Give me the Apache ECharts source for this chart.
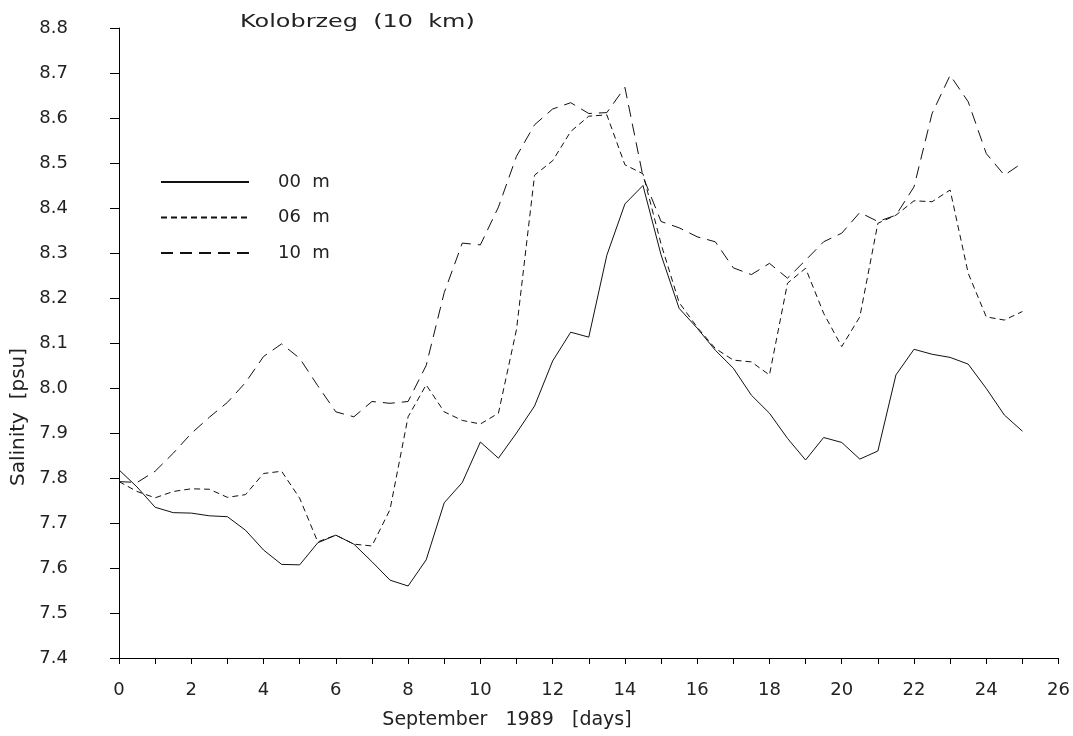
<!DOCTYPE html>
<html>
<head>
<meta charset="utf-8">
<script src="https://cdn.jsdelivr.net/npm/echarts@6/dist/echarts.min.js"></script>
<style>
html,body{margin:0;padding:0;background:#fff;}
#chart{width:1073px;height:736px;}
</style>
</head>
<body>
<div id="chart"></div>
<script>
// Days (half-day steps), September 1989
var days = [0,0.5,1,1.5,2,2.5,3,3.5,4,4.5,5,5.5,6,6.5,7,7.5,8,8.5,9,9.5,10,10.5,11,11.5,12,12.5,13,13.5,14,14.5,15,15.5,16,16.5,17,17.5,18,18.5,19,19.5,20,20.5,21,21.5,22,22.5,23,23.5,24,24.5,25];

var sal00 = [7.818,7.780,7.735,7.723,7.722,7.716,7.714,7.684,7.640,7.608,7.607,7.656,7.673,7.653,7.614,7.573,7.560,7.618,7.745,7.790,7.880,7.844,7.900,7.960,8.060,8.124,8.113,8.295,8.409,8.450,8.296,8.177,8.133,8.084,8.044,7.984,7.944,7.888,7.840,7.890,7.879,7.842,7.860,8.029,8.086,8.075,8.068,8.053,7.999,7.940,7.904];

var sal06 = [7.792,7.770,7.756,7.770,7.776,7.775,7.757,7.763,7.810,7.815,7.755,7.658,7.673,7.653,7.649,7.730,7.936,8.007,7.947,7.928,7.920,7.944,8.130,8.473,8.505,8.570,8.604,8.607,8.496,8.476,8.320,8.190,8.135,8.088,8.062,8.058,8.029,8.233,8.266,8.166,8.092,8.158,8.366,8.384,8.416,8.414,8.440,8.255,8.158,8.151,8.170];

var sal10 = [7.792,7.790,7.815,7.855,7.899,7.935,7.968,8.012,8.070,8.098,8.066,8.005,7.947,7.936,7.970,7.966,7.970,8.050,8.212,8.322,8.318,8.402,8.515,8.585,8.620,8.634,8.610,8.612,8.668,8.470,8.370,8.356,8.336,8.325,8.267,8.252,8.277,8.244,8.284,8.325,8.344,8.390,8.370,8.384,8.447,8.610,8.695,8.636,8.521,8.473,8.500];

var seriesNames = ['00  m','06  m','10  m'];
var xTicks = {min:0, max:26, step:2};
var yTicks = {min:7.4, max:8.8, step:0.1};
var titleText = 'Kolobrzeg  (10  km)';
var xName = 'September   1989   [days]';
var yName = 'Salinity  [psu]';

function pairs(vals){ return days.map(function(d,i){ return [d, vals[i]]; }); }

var FONT = 'DejaVu Sans';
var chart = echarts.init(document.getElementById('chart'), null, {renderer:'canvas'});
var lineCol = '#111';

chart.setOption({
  animation:false,
  backgroundColor:'#fff',
  grid:{left:119, right:11, top:28, bottom:78, containLabel:false},
  legend:{
    show:true,
    orient:'vertical', left:160, top:173, padding:0,
    itemWidth:88, itemHeight:14, itemGap:17.5,
    itemStyle:{color:'rgba(0,0,0,0)', borderWidth:0, borderColor:'rgba(0,0,0,0)'},
    textStyle:{fontFamily:FONT, fontSize:18, color:'#222', padding:[0,0,0,24]},
    data:seriesNames
  },
  xAxis:{
    type:'value', min:xTicks.min, max:xTicks.max, interval:xTicks.step,
    axisLine:{show:true, onZero:false, lineStyle:{color:'#000', width:1}},
    axisTick:{show:true, length:6, lineStyle:{color:'#000'}},
    minorTick:{show:true, splitNumber:2, length:6, lineStyle:{color:'#000'}},
    splitLine:{show:false},
    axisLabel:{margin:23, fontFamily:FONT, fontSize:18, color:'#222'}
  },
  yAxis:{
    type:'value', min:yTicks.min, max:yTicks.max, interval:yTicks.step,
    axisLine:{show:true, onZero:false, lineStyle:{color:'#000', width:1}},
    axisTick:{show:true, length:9, lineStyle:{color:'#000'}},
    splitLine:{show:false},
    axisLabel:{margin:51, fontFamily:FONT, fontSize:18, color:'#222',
      formatter:function(v){ return v.toFixed(1); }}
  },
  graphic:[
    {type:'text', x:240, y:22.5, scaleX:1.33, style:{text:titleText, font:'18px "DejaVu Sans"', fill:'#222', align:'left', verticalAlign:'middle'}},
    {type:'text', x:507, y:720, style:{text:xName, font:'19px "DejaVu Sans"', fill:'#222', align:'center', verticalAlign:'middle'}},
    {type:'text', x:19, y:417, rotation:Math.PI/2, style:{text:yName, font:'20px "DejaVu Sans"', fill:'#222', align:'center', verticalAlign:'middle'}}
  ],
  series:[
    {name:seriesNames[0], type:'line', data:pairs(sal00), symbol:'none', lineStyle:{color:lineCol, width:1, type:'solid'}, itemStyle:{color:lineCol}},
    {name:seriesNames[1], type:'line', data:pairs(sal06), symbol:'none', lineStyle:{color:lineCol, width:1, type:[6,4]}, itemStyle:{color:lineCol}},
    {name:seriesNames[2], type:'line', data:pairs(sal10), symbol:'none', lineStyle:{color:lineCol, width:1, type:[12,7]}, itemStyle:{color:lineCol}}
  ]
});
</script>
</body>
</html>
